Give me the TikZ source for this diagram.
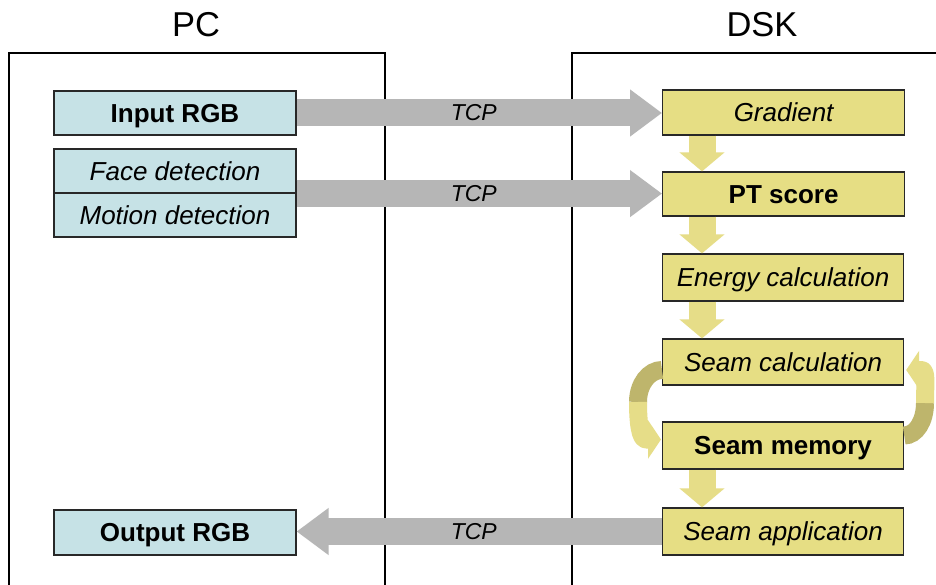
\documentclass[tikz,border=0pt]{standalone}
\usepackage{fontspec}
\setmainfont{Liberation Sans}
\usetikzlibrary{arrows.meta,calc}
\definecolor{boxblue}{RGB}{198,226,230}
\definecolor{boxyel}{RGB}{230,222,132}
\definecolor{arrgray}{RGB}{182,182,182}
\definecolor{olivedk}{RGB}{190,181,108}
\definecolor{yellt}{RGB}{230,221,136}
\definecolor{edgec}{RGB}{40,40,40}
\begin{document}
\begin{tikzpicture}[x=1pt,y=1pt,
  frame/.style={draw=black, line width=1.8pt},
  boxtext/.style={inner sep=0pt, text height=19pt, text depth=0.4pt, font=\fontsize{26}{30}\selectfont},
  pcbox/.style={boxtext, draw=edgec, line width=1.2pt, fill=boxblue, minimum width=242pt},
  dskbox/.style={boxtext, draw=edgec, line width=1.2pt, fill=boxyel, minimum width=241pt, anchor=west},
  title/.style={font=\fontsize{34.5}{40}\selectfont, inner sep=0pt},
  tcp/.style={font=\fontsize{23}{27}\selectfont\itshape, text=black, inner sep=0pt},
  grayarr/.style={draw=arrgray, line width=27pt, -{Triangle[length=32pt,width=45pt]}},
  yarr/.style={draw=yellt, line width=27pt, -{Triangle[length=19pt,width=44pt]}},
  loopdark/.style={draw=olivedk, line width=18pt},
  looplight/.style={draw=yellt, line width=18pt, line join=round, -{Triangle[length=13pt,width=38pt]}}
]
\useasboundingbox (0,0) rectangle (936,584);
\fill[white] (0,0) rectangle (936,584);

% frames
\draw[frame] (9,-5) -- (9,531) -- (385,531) -- (385,-5);
\draw[frame] (572,-5) -- (572,531) -- (945,531);
\node[title] (pc) at (196,559) {PC};
\node[title] (dsk) at (762,559) {DSK};

% PC boxes
\node[pcbox, minimum height=44pt, font=\fontsize{26}{30}\selectfont\bfseries] (in) at (175,471) {Input RGB};
\node[pcbox, minimum height=44pt, font=\fontsize{26}{30}\selectfont\itshape] (face) at (175,413) {Face detection};
\node[pcbox, minimum height=44pt, font=\fontsize{26}{30}\selectfont\itshape] (mot) at (175,369) {Motion detection};
\node[pcbox, minimum height=45pt, font=\fontsize{26}{30}\selectfont\bfseries] (out) at (175,51.5) {Output RGB};

% DSK boxes
\node[dskbox, minimum height=45pt, minimum width=242pt, font=\fontsize{26}{30}\selectfont\itshape] (grad) at (662,471.5) {Gradient};
\node[dskbox, minimum height=44pt, minimum width=242pt, font=\fontsize{26}{30}\selectfont\bfseries] (pt) at (662,390) {PT score};
\node[dskbox, minimum height=47pt, font=\fontsize{26}{30}\selectfont\itshape] (en) at (662,306.5) {Energy calculation};
\node[dskbox, minimum height=46pt, font=\fontsize{26}{30}\selectfont\itshape] (sc) at (662,222) {Seam calculation};
\node[dskbox, minimum height=47pt, font=\fontsize{26}{30}\selectfont\bfseries] (sm) at (662,138.5) {Seam memory};
\node[dskbox, minimum height=47pt, font=\fontsize{26}{30}\selectfont\itshape] (sa) at (662,52.5) {Seam application};

% TCP arrows
\draw[grayarr] (in.east) -- (in.east -| grad.west) node[tcp, pos=0.485] {TCP};
\draw[grayarr] (face.south east) -- (face.south east -| pt.west) node[tcp, pos=0.485] {TCP};
\draw[grayarr] (sa.west) -- (sa.west -| out.east) node[tcp, pos=0.515] {TCP};

% vertical flow arrows
\draw[yarr] ($(grad.south west)+(40,0)$) -- ($(pt.north west)+(40,0)$);
\draw[yarr] ($(pt.south west)+(40,0)$) -- ($(en.north west)+(40,0)$);
\draw[yarr] ($(en.south west)+(40,0)$) -- ($(sc.north west)+(40,0)$);
\draw[yarr] ($(sm.south west)+(40,0)$) -- ($(sa.north west)+(40,0)$);

% loop arrows
\coordinate (ls) at ($(sc.west)+(0,-8)$);
\coordinate (lmid) at (638,182);
\coordinate (le) at ($(sm.west)+(-1,6)$);
\coordinate (lp) at ($(le)+(-15,0)$);
\coordinate (rs) at ($(sm.east)+(0,10)$);
\coordinate (rmid) at (925,181);
\coordinate (re) at ($(sc.east)+(2,-8)$);
\coordinate (rp) at ($(re)+(15,0)$);
\draw[loopdark] (ls) .. controls ($(ls)+(-13,0)$) and ($(lmid)+(0,18)$) .. (lmid);
\draw[looplight] (lmid) .. controls ($(lmid)+(0,-20)$) and ($(lp)+(-6,0)$) .. (lp) -- (le);
\draw[loopdark] (rs) .. controls ($(rs)+(12,0)$) and ($(rmid)+(0,-18)$) .. (rmid);
\draw[looplight] (rmid) .. controls ($(rmid)+(0,20)$) and ($(rp)+(6,0)$) .. (rp) -- (re);
\end{tikzpicture}
\end{document}
